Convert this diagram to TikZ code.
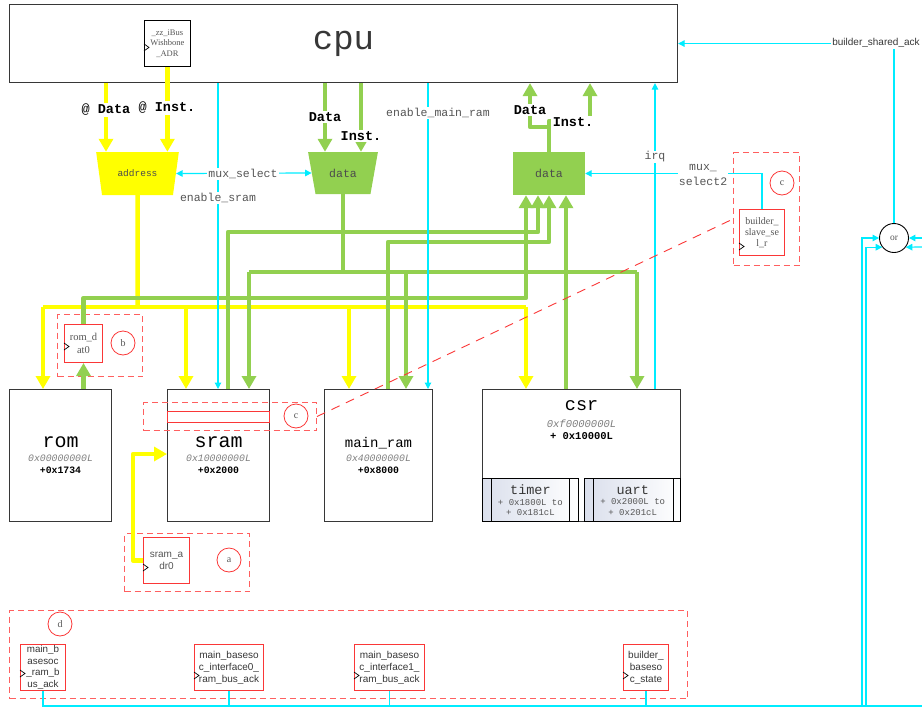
\documentclass[tikz,border=0pt]{standalone}
\usepackage{fontspec}
\setmainfont{Liberation Serif}
\setsansfont{Liberation Sans}
\setmonofont{Liberation Mono}
\usepackage{tikz}
\usetikzlibrary{
  arrows.meta,
  positioning,
  shapes.geometric
}
\definecolor{busyellow}{RGB}{255,255,0}
\definecolor{busgreen}{RGB}{146,208,80}
\definecolor{sigcyan}{RGB}{0,236,255}
\definecolor{regred}{RGB}{250,55,55}
\definecolor{grpred}{RGB}{255,95,95}
\definecolor{txtgray}{RGB}{85,85,85}
\definecolor{addrgray}{RGB}{125,125,125}
\definecolor{boxgray}{RGB}{55,55,55}
\definecolor{subshade}{RGB}{218,223,236}
\newcommand{\fsz}[2]{\fontsize{#1}{#2}\selectfont}
\newcommand{\clockAt}[2]{%
  \draw[clockMark] ([yshift={(#2+3.5)*1pt}]#1.west) -- ++(5,3.5) -- ++(-5,3.5);}
\tikzset{
  cpuBox/.style={
    rectangle,
    draw=boxgray,
    line width=1.1pt,
    inner sep=0pt,
    anchor=north west,
    font=\ttfamily\fsz{34}{36},
    text=boxgray
  },
  memBox/.style={
    rectangle,
    draw=boxgray,
    line width=1.1pt,
    fill=white,
    inner sep=0pt,
    anchor=north west,
    align=center,
    font=\ttfamily\fsz{9.8}{12}
  },
  subBox/.style={
    rectangle,
    draw=black,
    line width=0.8pt,
    left color=subshade,
    right color=white,
    inner sep=0pt,
    align=center,
    font=\ttfamily\fsz{9}{10.5},
    text=txtgray
  },
  regBox/.style={
    rectangle,
    draw=regred,
    line width=1pt,
    fill=white,
    inner sep=0pt,
    anchor=north west,
    align=center,
    text=txtgray
  },
  grpBox/.style={
    rectangle,
    draw=grpred,
    line width=1pt,
    dash pattern=on 6pt off 4pt,
    inner sep=0pt,
    anchor=north west
  },
  tagCircle/.style={
    circle,
    draw=regred,
    line width=0.8pt,
    minimum size=24pt,
    inner sep=0pt,
    font=\rmfamily\fsz{10}{10},
    text=txtgray
  },
  orGate/.style={
    circle,
    draw=black,
    line width=0.9pt,
    minimum size=29pt,
    inner sep=0pt,
    font=\rmfamily\fsz{9.5}{10},
    text=txtgray
  },
  muxShape/.style={
    trapezium,
    trapezium left angle=111,
    trapezium right angle=111,
    trapezium stretches=true,
    inner sep=1pt,
    text=black!70
  },
  busYellow/.style={draw=busyellow, line width=4.5pt, line join=round},
  busGreen/.style={draw=busgreen, line width=4.5pt, line join=round},
  busTip/.style={-{Triangle[width=14pt,length=13pt]}},
  sigLine/.style={draw=sigcyan, line width=1.2pt},
  sigTip/.style={-{Triangle[width=6.5pt,length=6.5pt]}},
  sigTips/.style={{Triangle[width=6.5pt,length=6.5pt]}-{Triangle[width=6.5pt,length=6.5pt]}},
  busLabel/.style={fill=white, inner sep=1.5pt, font=\ttfamily\bfseries\fsz{13.5}{14}},
  sigLabel/.style={fill=white, inner sep=1pt, font=\ttfamily\fsz{11.5}{13}, text=txtgray},
  clockMark/.style={draw=black, line width=0.7pt},
  linkDash/.style={draw=regred, line width=0.9pt, dash pattern=on 9pt off 7pt}
}

\begin{document}
\begin{tikzpicture}[x=1pt, y=-1pt]
  \useasboundingbox (0,0) rectangle (922,710);

  % blocks
  \node[cpuBox, minimum width=668pt, minimum height=78pt] (cpu) at (9,4) {cpu};
  \node[rectangle, draw=black, line width=0.8pt, fill=white, inner sep=0pt,
    minimum width=46pt, minimum height=46pt, anchor=north west, align=center,
    font=\rmfamily\fsz{8.5}{10.5}, text=txtgray] (zzadr) at (144,20)
    {\_zz\_iBus\\Wishbone\\\_ADR};

  \node[muxShape, fill=busyellow, minimum width=83pt, minimum height=43pt,
    font=\ttfamily\fsz{9.5}{10}] (addrmux) at (137.5,173.5) {address};
  \node[muxShape, fill=busgreen, minimum width=70pt, minimum height=42pt,
    font=\ttfamily\fsz{11.5}{12}] (dmux) at (343,173) {data};
  \node[rectangle, fill=busgreen, minimum width=72pt, minimum height=43pt,
    font=\ttfamily\fsz{11.5}{12}, text=black!70] (rdata) at (549,173.5) {data};

  \node[memBox, minimum width=102pt, minimum height=132pt] (rom) at (9,389)
    {{\fsz{20}{22}rom}\\[2pt]{\itshape\color{addrgray}0x00000000L}\\{\bfseries +0x1734}};
  \node[memBox, minimum width=102pt, minimum height=132pt] (sram) at (167,389)
    {{\fsz{20}{22}sram}\\[2pt]{\itshape\color{addrgray}0x10000000L}\\{\bfseries +0x2000}};
  \node[memBox, minimum width=108pt, minimum height=132pt] (mainram) at (324,389)
    {{\fsz{14}{16}main\_ram}\\[2pt]{\itshape\color{addrgray}0x40000000L}\\{\bfseries +0x8000}};
  \node[memBox, minimum width=198pt, minimum height=132pt] (csr) at (482,389) {};
  \node[below=11pt of csr.north, inner sep=0pt, align=center,
    font=\ttfamily\fsz{10.5}{12}] (csrtxt)
    {{\fsz{18.5}{20}csr}\\[5pt]{\itshape\color{addrgray}0xf0000000L}\\{\bfseries + 0x10000L}};

  \node[subBox, minimum width=96pt, minimum height=43pt, anchor=south west] (timer)
    at (csr.south west) {{\fsz{13.5}{14}\color{boxgray}timer}\\+ 0x1800L to\\+ 0x181cL};
  \node[subBox, minimum width=96pt, minimum height=43pt, anchor=south east] (uart)
    at (csr.south east) {{\fsz{13.5}{14}\color{boxgray}uart}\\+ 0x2000L to\\+ 0x201cL};
  \draw[line width=0.8pt] ([xshift=9pt]timer.north west) -- ([xshift=9pt]timer.south west);
  \draw[line width=0.8pt] ([xshift=-9pt]timer.north east) -- ([xshift=-9pt]timer.south east);
  \draw[line width=0.8pt] ([xshift=9pt]uart.north west) -- ([xshift=9pt]uart.south west);
  \draw[line width=0.8pt] ([xshift=-8pt]uart.north east) -- ([xshift=-8pt]uart.south east);

  % registers and groups
  \node[grpBox, minimum width=85pt, minimum height=62pt] (romgrp) at (57,314) {};
  \node[regBox, minimum width=38pt, minimum height=38pt,
    font=\rmfamily\fsz{10.5}{13}] (romdat) at (64,324) {rom\_d\\at0};
  \node[tagCircle] (tagb) at (123,343) {b};

  \node[grpBox, minimum width=173pt, minimum height=28pt] (sramgrp) at (143,402) {};
  \node[regBox, minimum width=102pt, minimum height=11pt] (sramslot) at (167,411) {};
  \node[tagCircle] (tagc) at (296,416) {c};

  \node[grpBox, minimum width=125pt, minimum height=58pt] (adrgrp) at (124,533) {};
  \node[regBox, minimum width=46pt, minimum height=46pt,
    font=\sffamily\fsz{10}{12}] (sramadr) at (143,537) {sram\_a\\dr0};
  \node[tagCircle] (taga) at (229,560) {a};

  \node[grpBox, minimum width=66pt, minimum height=113pt] (slavegrp) at (733,152) {};
  \node[regBox, minimum width=45pt, minimum height=46pt,
    font=\rmfamily\fsz{10}{11}] (slavesel) at (739,209) {builder\_\\slave\_se\\l\_r};
  \node[tagCircle] (tagcc) at (782,183) {c};

  \node[grpBox, minimum width=678pt, minimum height=88pt] (ackgrp) at (9,610) {};
  \node[tagCircle] (tagd) at (60,624) {d};
  \node[regBox, minimum width=45pt, minimum height=46pt, text=boxgray,
    font=\sffamily\fsz{9.8}{11.4}] (ramack) at (20,644) {main\_b\\asesoc\\\_ram\_b\\us\_ack};
  \node[regBox, minimum width=69pt, minimum height=46pt, text=boxgray,
    font=\sffamily\fsz{10}{12}] (ifzack) at (194,644) {main\_baseso\\c\_interface0\_\\ram\_bus\_ack};
  \node[regBox, minimum width=70pt, minimum height=46pt, text=boxgray,
    font=\sffamily\fsz{10}{12}] (ifoack) at (354,644) {main\_baseso\\c\_interface1\_\\ram\_bus\_ack};
  \node[regBox, minimum width=45pt, minimum height=46pt, text=boxgray,
    font=\sffamily\fsz{10}{12}] (bsstate) at (623,644) {builder\_\\baseso\\c\_state};

  \node[orGate] (orgate) at (894,238) {or};

  \clockAt{zzadr}{-4}
  \clockAt{romdat}{-3}
  \clockAt{sramadr}{-7}
  \clockAt{slavesel}{-14}
  \clockAt{ramack}{-6}
  \clockAt{ifzack}{-8}
  \clockAt{ifoack}{-8}
  \clockAt{bsstate}{-8}

  % address bus
  \coordinate (adrDin) at (106,0);
  \coordinate (adrBus) at (137.5,307);
  \coordinate (adrRom) at (43,307);
  \coordinate (adrSram) at (186,307);
  \coordinate (adrMram) at (349,307);
  \coordinate (adrCsr) at (526,307);
  \coordinate (adrUp) at (133,454);
  \draw[busYellow, busTip] (cpu.south -| adrDin) -- (addrmux.north -| adrDin);
  \draw[busYellow, busTip] (zzadr.south) -- (addrmux.north -| zzadr.south);
  \draw[busYellow] (addrmux.south) -- (adrBus);
  \draw[busYellow] (adrRom) -- (adrCsr);
  \draw[busYellow, busTip] (adrRom) -- (rom.north -| adrRom);
  \draw[busYellow, busTip] (adrSram) -- (sram.north -| adrSram);
  \draw[busYellow, busTip] (adrMram) -- (mainram.north -| adrMram);
  \draw[busYellow, busTip] (adrCsr) -- (csr.north -| adrCsr);
  \draw[busYellow, busTip] (sramadr.west) -| (adrUp) -- (sram.west |- adrUp);

  % data buses
  \coordinate (dIn) at (325,0);
  \coordinate (iIn) at (361,0);
  \coordinate (wrSram) at (249,272);
  \coordinate (wrMram) at (406,272);
  \coordinate (wrCsr) at (637,272);
  \coordinate (rdRom) at (526,298);
  \coordinate (rdSramA) at (228,232);
  \coordinate (rdSramB) at (538,232);
  \coordinate (rdMramA) at (388,242);
  \coordinate (rdMramB) at (549,242);
  \coordinate (rdCsr) at (566,0);
  \coordinate (dOut) at (530,127);
  \coordinate (iOut) at (590,121);
  \draw[busGreen, busTip] (cpu.south -| dIn) -- (dmux.north -| dIn);
  \draw[busGreen, busTip] (cpu.south -| iIn) -- (dmux.north -| iIn);
  \draw[busGreen] (dmux.south) -- (dmux.south |- wrSram);
  \draw[busGreen] (wrSram) -- (wrCsr);
  \draw[busGreen, busTip] (wrSram) -- (sram.north -| wrSram);
  \draw[busGreen, busTip] (wrMram) -- (mainram.north -| wrMram);
  \draw[busGreen, busTip] (wrCsr) -- (csr.north -| wrCsr);
  \draw[busGreen, busTip] (rom.north -| romdat.south) -- (romdat.south);
  \draw[busGreen, busTip] (romdat.north) |- (rdRom) -- (rdata.south -| rdRom);
  \draw[busGreen, busTip] (sram.north -| rdSramA) -- (rdSramA) -- (rdSramB) -- (rdata.south -| rdSramB);
  \draw[busGreen, busTip] (mainram.north -| rdMramA) -- (rdMramA) -- (rdMramB) -- (rdata.south -| rdMramB);
  \draw[busGreen, busTip] (csr.north -| rdCsr) -- (rdata.south -| rdCsr);
  \draw[busGreen, busTip] (rdata.north) |- (dOut) -- (cpu.south -| dOut);
  \draw[busGreen, busTip] (rdata.north) |- (iOut) -- (cpu.south -| iOut);

  % control signals
  \coordinate (enSram) at (218,0);
  \coordinate (enMram) at (428,0);
  \coordinate (irqX) at (655,0);
  \coordinate (ackEnd) at (922,706);
  \coordinate (orInA) at (862,706);
  \coordinate (orInB) at (866,706);
  \coordinate (orExtA) at (922,238);
  \coordinate (orExtB) at (922,247);
  \draw[sigLine, sigTip] (cpu.south -| enSram) -- (sram.north -| enSram);
  \draw[sigLine, sigTip] (cpu.south -| enMram) -- (mainram.north -| enMram);
  \draw[sigLine, sigTip] (csr.north -| irqX) -- (cpu.south -| irqX);
  \draw[sigLine, sigTips] (addrmux.east) -- (dmux.west);
  \draw[sigLine, sigTip] (slavesel.north) |- (rdata.east);
  \draw[sigLine, sigTip] (orgate.north) |- (cpu.east);
  \draw[sigLine] (ramack.south) |- (ackEnd);
  \draw[sigLine] (ifzack.south) |- (ackEnd);
  \draw[sigLine] (ifoack.south) |- (ackEnd);
  \draw[sigLine] (bsstate.south) |- (ackEnd);
  \draw[sigLine, sigTip] (orInA) |- (orgate.west);
  \draw[sigLine, sigTip] (orInB) |- (orgate.218);
  \draw[sigLine, sigTip] (orExtA) -- (orgate.east);
  \draw[sigLine, sigTip] (orExtB) -- (orgate.322);

  \draw[linkDash] (sramgrp.east) -- ([yshift=-10pt]slavegrp.west);

  % labels
  \node[busLabel] (lblAdrD) at (106,110) {{\mdseries @} Data};
  \node[busLabel] (lblAdrI) at (167,108) {{\mdseries @} Inst.};
  \node[busLabel] (lblDinD) at (325,117) {Data};
  \node[busLabel] (lblDinI) at (361,136) {Inst.};
  \node[busLabel] (lblDoutD) at (530,110) {Data};
  \node[busLabel] (lblDoutI) at (573,122) {Inst.};
  \node[sigLabel] (lblSel) at (243,174) {mux\_select};
  \node[sigLabel] (lblEnS) at (218,198) {enable\_sram};
  \node[sigLabel] (lblEnM) at (438,113) {enable\_main\_ram};
  \node[sigLabel] (lblIrq) at (655,157) {irq};
  \node[sigLabel, align=center, font=\ttfamily\fsz{11.5}{15}] (lblSel2) at (703,175) {mux\_\\select2};
  \node[fill=white, inner sep=1pt, font=\sffamily\fsz{10}{12}, text=boxgray] (lblAck)
    at (876,43) {builder\_shared\_ack};
\end{tikzpicture}
\end{document}
